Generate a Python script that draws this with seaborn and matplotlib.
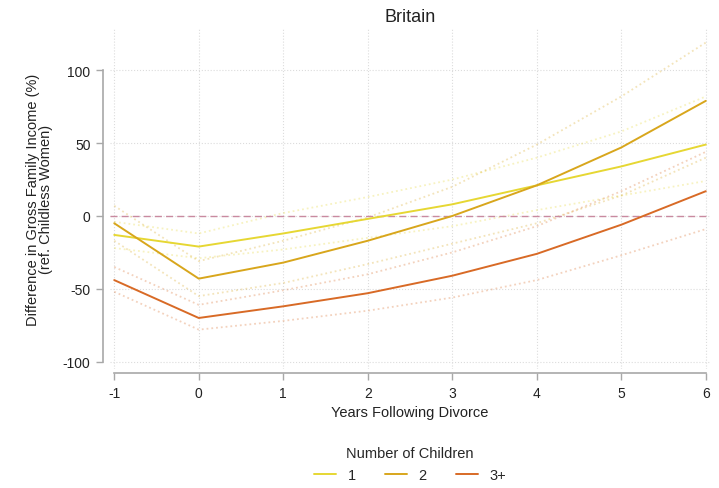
import matplotlib.pyplot as plt
import pandas as pd
import seaborn as sns

# years relative to divorce
years = [-1, 0, 1, 2, 3, 4, 5, 6]
groups = ["1", "2", "3+"]

# point estimates (% difference, ref. childless women)
est_one = [-13, -21, -12, -2, 8, 21, 34, 49]
est_two = [-5, -43, -32, -17, 0, 21, 47, 79]
est_three = [-44, -70, -62, -53, -41, -26, -6, 17]

# confidence bounds (dotted lines)
lo_one = [-22, -29, -23, -15, -7, 4, 14, 24]
hi_one = [-4, -12, 2, 13, 25, 40, 58, 82]
lo_two = [-17, -55, -46, -33, -19, -5, 14, 40]
hi_two = [7, -31, -17, -1, 20, 49, 82, 119]
lo_three = [-52, -78, -72, -65, -56, -44, -27, -9]
hi_three = [-35, -61, -51, -40, -25, -7, 17, 44]

colors = {"1": "#e6d733", "2": "#d8a61c", "3+": "#d86a26"}

rows = []
for g, est, lo, hi in zip(groups,
                          [est_one, est_two, est_three],
                          [lo_one, lo_two, lo_three],
                          [hi_one, hi_two, hi_three]):
    for yr, e, l, h in zip(years, est, lo, hi):
        rows.append({"year": yr, "children": g, "est": e, "lo": l, "hi": h})
df = pd.DataFrame(rows)

sns.set_theme(style="white")
plt.rcParams["font.family"] = ["Liberation Sans", "DejaVu Sans"]
plt.rcParams["axes.unicode_minus"] = False

fig = plt.figure(figsize=(7.19, 4.89), dpi=100)
ax = fig.add_axes([0.153, 0.2434, 0.8345, 0.6973])

# confidence bounds
for col in ["lo", "hi"]:
    sns.lineplot(data=df, x="year", y=col, hue="children", palette=colors,
                 linestyle=":", linewidth=1.3, alpha=0.3, legend=False, ax=ax)

ax.axhline(0, color="#c98aa0", linestyle=(0, (5, 3)), linewidth=1.0)

sns.lineplot(data=df, x="year", y="est", hue="children", palette=colors,
             linewidth=1.4, ax=ax)

ax.set_xlim(-1.05, 6.05)
ax.set_ylim(-105, 129)
ax.set_xticks(years)
ax.set_yticks([-100, -50, 0, 50, 100])
ax.grid(True, linestyle=":", color="#dcdcdc", linewidth=0.8)

ax.set_title("Britain", fontsize=13, color="#222222", pad=5)
ax.set_xlabel("Years Following Divorce", fontsize=10.5, color="#222222", labelpad=4)
ax.set_ylabel("Difference in Gross Family Income (%)\n(ref. Childless Women)",
              fontsize=10.5, color="#222222", labelpad=7, linespacing=0.95)

ax.tick_params(axis="both", bottom=True, left=True, length=5, width=1,
               color="#a8a8a8", labelcolor="#222222", labelsize=10, pad=4)

sns.despine(ax=ax, offset={"left": 5, "bottom": 3}, trim=True)
for side in ["left", "bottom"]:
    ax.spines[side].set_color("#a8a8a8")
    ax.spines[side].set_linewidth(1.2)

handles, labels = ax.get_legend_handles_labels()
ax.legend(handles, labels, title="Number of Children", loc="upper center",
          bbox_to_anchor=(0.5, -0.21), ncol=3, frameon=False,
          fontsize=10.5, title_fontsize=10.5, handlelength=1.5,
          columnspacing=2.0, handletextpad=0.8, borderaxespad=0)

fig.savefig("out.png", dpi=100)
